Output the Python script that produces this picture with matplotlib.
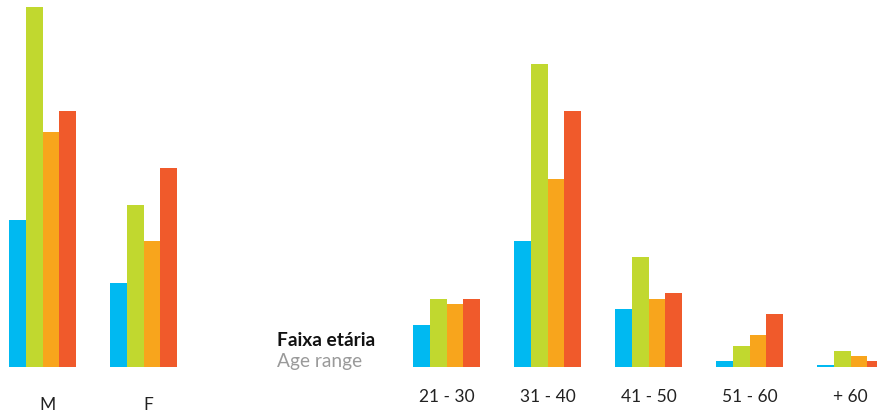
import matplotlib.pyplot as plt
import matplotlib.transforms as mtransforms

plt.rcParams['font.family'] = ['Lato', 'DejaVu Sans']

# groups: gender (M, F) then age ranges
gender_labels = ['M', 'F']
age_labels = ['21 - 30', '31 - 40', '41 - 50', '51 - 60', '+ 60']

# four series per group (blue, green, orange, red)
blue = [147, 84, 42, 126, 58, 6, 2]
green = [360, 162, 68, 303, 110, 21, 16]
orange = [235, 126, 63, 188, 68, 32, 11]
red = [256, 199, 68, 256, 74, 53, 6]

colors = ['#00B9F1', '#C1D82F', '#F8A51C', '#F05A2B']
series = [blue, green, orange, red]

positions = [0, 1, 4, 5, 6, 7, 8]
width = 0.167

fig = plt.figure(figsize=(8.77, 4.19), dpi=100)
ax = fig.add_axes([0, 52 / 419, 1, 367 / 419])

for k, (vals, c) in enumerate(zip(series, colors)):
    xs = [p + (k - 1.5) * width for p in positions]
    ax.bar(xs, vals, width=width, color=c, linewidth=0)

ax.set_xlim(-0.421, 8.262)
ax.set_ylim(0, 367)
ax.axis('off')

trans = mtransforms.blended_transform_factory(ax.transData, fig.transFigure)
for p, lab in zip(positions[:2], gender_labels):
    ax.text(p + 0.05, 1 - 405 / 419, lab, transform=trans, ha='center', va='center',
            fontsize=12.5, color='#222222')
for p, lab in zip(positions[2:], age_labels):
    ax.text(p, 1 - 397 / 419, lab, transform=trans, ha='center', va='center',
            fontsize=12.5, color='#222222')

fig.text(277 / 877, 1 - 340 / 419, 'Faixa etária', ha='left', va='center',
         fontsize=13.8, fontweight='bold', color='#111111')
fig.text(277 / 877, 1 - 361 / 419, 'Age range', ha='left', va='center',
         fontsize=13.8, color='#9a9a9a')

fig.savefig('out.png', dpi=100)
